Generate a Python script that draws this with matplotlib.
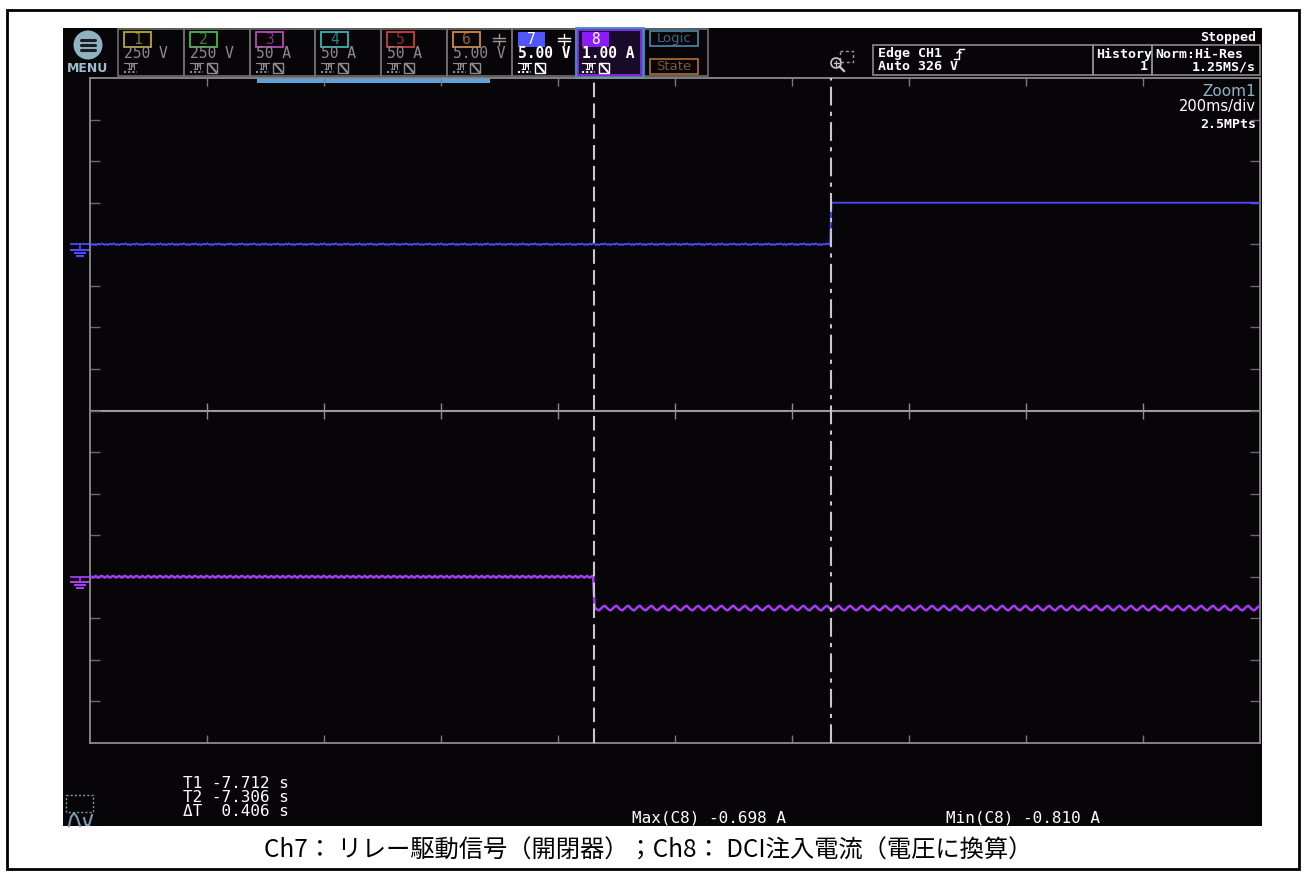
import numpy as np
import matplotlib
matplotlib.use('Agg')
import matplotlib.pyplot as plt
from matplotlib.patches import Rectangle, Circle

plt.rcParams['font.family'] = ['DejaVu Sans Mono', 'DejaVu Sans']

# timebase / cursors
t_left = -8.5735        # left edge of the screen, s
t_div = 0.200           # 200 ms/div
dt = 0.020 / 8          # eight samples per 50 Hz cycle
t1 = -7.712
t2 = -7.306

# vertical settings (div)
ch7_scale = 5.00        # V/div
ch8_scale = 1.00        # A/div
ch7_pos = 4.0
ch8_pos = -4.0

# Ch7 relay drive signal, V
ch7_low_cycle = [0.10, 0.02, -0.08, 0.04, -0.10, 0.00, 0.06, -0.04]
ch7_high = 5.0

# Ch8 DCI injection current, A
ch8_before_cycle = [0.02, 0.00, -0.02, 0.00, 0.02, -0.01, -0.02, 0.01]
ch8_max = -0.698
ch8_min = -0.810
ch8_after_cycle = [ch8_max, -0.730, -0.770, -0.795, ch8_min, -0.780, -0.745, -0.715]

ch_labels = ['250 V', '250 V', '50 A', '50 A', '50 A', '5.00 V', '5.00 V', '1.00 A']
ch_colors = ['#b8a82c', '#44b848', '#b848b8', '#38b4b4', '#c84040', '#d08840', '#4f55ff', '#8c1cff']

caption = 'Ch7： リレー駆動信号（開閉器）；Ch8： DCI注入電流（電圧に換算）'

W, H = 1306, 876
fig = plt.figure(figsize=(W / 100, H / 100), dpi=100)
fig.patch.set_facecolor('white')

# pixel overlay for the screen furniture
ov = fig.add_axes([0, 0, 1, 1], zorder=0)
ov.set_xlim(0, W)
ov.set_ylim(H, 0)
ov.axis('off')

ov.add_patch(Rectangle((7, 10), 1292, 859, fc='white', ec='black', lw=2))
ov.add_patch(Rectangle((63, 28), 1199, 798, fc='#080508', ec='none'))

# MENU button
ov.add_patch(Circle((88, 45), 14.5, fc='#8fb3c3', ec='none'))
for yy in (40, 45, 50):
    ov.plot([81, 95], [yy, yy], color='#1c1c1c', lw=2.2, solid_capstyle='round')
ov.text(88, 69, 'MENU', ha='center', va='center', color='#9bbccc', fontsize=9,
        fontweight='bold', family='DejaVu Sans')

# channel boxes
box_x = [118, 184, 250, 315, 381, 447, 512, 576, 643, 708]
gray = '#6e6e6e'
for i in range(9):
    ov.add_patch(Rectangle((box_x[i], 29), box_x[i + 1] - box_x[i], 47, fc='none', ec=gray, lw=1.2))


def coupling_icon(x, y, c):
    ov.plot([x, x], [y - 7, y - 3], color=c, lw=1)
    ov.plot([x - 6, x + 6], [y - 3, y - 3], color=c, lw=1)
    ov.plot([x - 6, x + 6], [y, y], color=c, lw=1)
    ov.plot([x, x], [y, y + 4], color=c, lw=1)


for i in range(8):
    x = box_x[i]
    active = i >= 6
    if i == 7:
        ov.add_patch(Rectangle((x, 28), box_x[i + 1] - x, 49, fc='#1a0a2a', ec='#3a8ccc', lw=2))
        ov.add_patch(Rectangle((x + 2, 30), box_x[i + 1] - x - 4, 45, fc='none', ec='#8a2be2', lw=1.3))
    if active:
        ov.add_patch(Rectangle((x + 6, 32), 27, 15, fc=ch_colors[i], ec='none'))
        num_c, txt_c = 'white', 'white'
    else:
        ov.add_patch(Rectangle((x + 6, 32), 27, 15, fc='none', ec=ch_colors[i], lw=1.3))
        num_c, txt_c = ch_colors[i], '#8c8c8c'
    ov.text(x + 19.5, 40, str(i + 1), ha='center', va='center', color=num_c, fontsize=10.5,
            alpha=1 if active else 0.7)
    ov.text(x + 6, 54, ch_labels[i], ha='left', va='center', color=txt_c, fontsize=10.5,
            fontweight='bold' if active else 'normal')
    sub_c = 'white' if active else '#8c8c8c'
    ov.text(x + 12.5, 67.5, '1M', ha='center', va='center', color=sub_c, fontsize=5.5, fontweight='bold')
    ov.plot([x + 6, x + 19], [63, 63], color=sub_c, lw=0.8)
    ov.plot([x + 6, x + 19], [72, 72], color=sub_c, lw=1.5, ls=(0, (1, 1)))
    if i > 0:
        ov.add_patch(Rectangle((x + 23, 63), 10, 10, fc='none', ec=sub_c, lw=1))
        ov.plot([x + 25, x + 32], [64, 72], color=sub_c, lw=1.5)
    if i in (5, 6):
        coupling_icon(x + 52, 41, '#9a9a9a' if i == 5 else 'white')

# Logic / State
lx = box_x[8]
ov.add_patch(Rectangle((lx + 7, 31), 48, 15, fc='none', ec='#4a8ab0', lw=1.2))
ov.text(lx + 31, 38.5, 'Logic', ha='center', va='center', color='#3e6680', fontsize=9.5,
        family='DejaVu Sans')
ov.add_patch(Rectangle((lx + 7, 59), 48, 15, fc='none', ec='#b07030', lw=1.2))
ov.text(lx + 31, 66.5, 'State', ha='center', va='center', color='#7a5638', fontsize=9.5,
        family='DejaVu Sans')

# zoom magnifier
ov.add_patch(Rectangle((840, 51), 13, 11, fc='none', ec='#a0a0a0', lw=1, ls=(0, (2, 2))))
ov.add_patch(Circle((836, 63), 5, fc='none', ec='#c8c8c8', lw=1.2))
ov.plot([839.5, 844], [66.5, 71], color='#c8c8c8', lw=1.6)
ov.plot([833.5, 838.5], [63, 63], color='#c8c8c8', lw=0.9)
ov.plot([836, 836], [60.5, 65.5], color='#c8c8c8', lw=0.9)

# trigger / acquisition
for x0, x1 in ((873, 1093), (1093, 1152), (1152, 1260)):
    ov.add_patch(Rectangle((x0, 45), x1 - x0, 30, fc='none', ec='#8a8a8a', lw=1.2))
hd = dict(color='white', fontsize=9.5, fontweight='bold', va='center')
ov.text(1256, 38, 'Stopped', ha='right', **hd)
ov.text(878, 54, 'Edge CH1', ha='left', **hd)
ov.plot([954, 959, 959, 964], [59, 59, 49, 49], color='white', lw=1)
ov.plot([957, 959, 961], [53, 51, 53], color='white', lw=1)
ov.text(878, 67, 'Auto 326 V', ha='left', **hd)
ov.text(1096, 54, 'History', ha='left', **hd)
ov.text(1148, 67, '1', ha='right', **hd)
ov.text(1155, 54, 'Norm:Hi-Res', ha='left', **hd)
ov.text(1256, 67, '1.25MS/s', ha='right', **hd)

ov.text(1256, 91, 'Zoom1', ha='right', va='center', color='#8fb4c8', fontsize=11, family='DejaVu Sans')
ov.text(1256, 107, '200ms/div', ha='right', va='center', color='white', fontsize=10.5, family='DejaVu Sans')
ov.text(1256, 125, '2.5MPts', ha='right', va='center', color='white', fontsize=9.5, fontweight='bold')

# zoom window indicator
ov.add_patch(Rectangle((257, 78), 233, 5, fc='#5da2dc', ec='none'))

# cursor readouts
ct = dict(color='white', fontsize=11.5, ha='left', va='center')
ov.text(183, 783, f'T1 {t1:.3f} s', **ct)
ov.text(183, 797, f'T2 {t2:.3f} s', **ct)
ov.text(183, 811, f'ΔT  {t2 - t1:.3f} s', **ct)
ov.text(632, 818, f'Max(C8) {ch8_max:.3f} A', **ct)
ov.text(946, 818, f'Min(C8) {ch8_min:.3f} A', **ct)

# bottom-left icon
ov.add_patch(Rectangle((66, 795), 27, 17, fc='none', ec='#7a9ab0', lw=1, ls=(0, (1.5, 1.5))))
ov.plot([69, 71, 74, 77, 80], [826, 817, 813, 817, 826], color='#7a9ab0', lw=1.5)
ov.plot([84, 86, 89, 92], [818, 825, 825, 815], color='#7a9ab0', lw=1.5)

# caption
fig.text(648 / W, 1 - 851 / H, caption, ha='center', va='center', fontsize=17.5,
         family=['Noto Sans CJK JP', 'DejaVu Sans'], color='black')

# graticule + traces
gx0, gx1, gy0, gy1 = 90, 1260, 78, 743
ax = fig.add_axes([gx0 / W, 1 - gy1 / H, (gx1 - gx0) / W, (gy1 - gy0) / H], zorder=1)
ax.set_facecolor('none')
ax.set_xlim(t_left, t_left + 10 * t_div)
ax.set_ylim(-8, 8)
for s in ax.spines.values():
    s.set_color('#8c8c8c')
    s.set_linewidth(1.3)
xt = t_left + t_div * np.arange(1, 10)
ax.set_xticks(xt)
ax.set_yticks(np.arange(-7, 8))
ax.tick_params(axis='x', direction='in', top=True, bottom=True, length=6, width=1,
               color='#7a7a7a', labelbottom=False)
ax.tick_params(axis='y', direction='in', left=True, right=True, length=7.5, width=1,
               color='#6a6a6a', labelleft=False)
ax.axhline(0, color='#9a9a9a', lw=1.5, zorder=1)
ax.plot(xt, np.zeros_like(xt), ls='none', marker='|', ms=12, mew=1, color='#8c8c8c')

n = int(round(10 * t_div / dt)) + 1
t = t_left + dt * np.arange(n)
ch7 = np.where(t < t2, np.resize(ch7_low_cycle, n), ch7_high)
ch8 = np.where(t < t1, np.resize(ch8_before_cycle, n), np.resize(ch8_after_cycle, n))

ax.plot(t, ch7 / ch7_scale + ch7_pos, color='#4a4aff', lw=1.3, zorder=3)
ax.plot(t, ch8 / ch8_scale + ch8_pos, color='#a43cf0', lw=1.8, zorder=3)

ax.axvline(t1, color='#c8c8c8', lw=1.5, ls=(0, (7, 3)), zorder=4)
ax.axvline(t2, color='#c8c8c8', lw=1.5, ls=(0, (9, 3, 2, 3)), zorder=4)

# ground markers left of the graticule
for pos, c in ((ch7_pos, '#4a4aff'), (ch8_pos, '#a43cf0')):
    yp = gy0 + (8 - pos) * (gy1 - gy0) / 16
    ov.plot([71, 89], [yp, yp], color=c, lw=1.3)
    ov.plot([79.5, 79.5], [yp, yp + 5], color=c, lw=1.3)
    ov.plot([71, 89], [yp + 5.5, yp + 5.5], color=c, lw=1.5)
    ov.plot([74.5, 85], [yp + 8.5, yp + 8.5], color=c, lw=1.5)
    ov.plot([77, 83], [yp + 11.5, yp + 11.5], color=c, lw=1.5)

fig.savefig('out.png', dpi=100, facecolor='white')
